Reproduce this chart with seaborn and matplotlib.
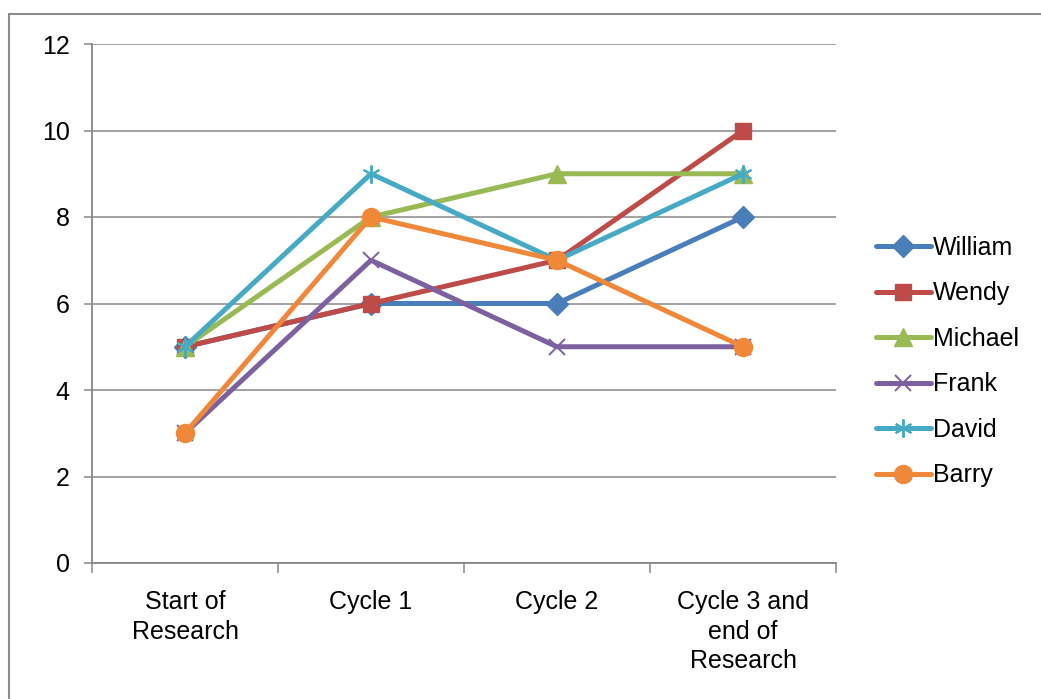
import numpy as np
import pandas as pd
import matplotlib
matplotlib.use("Agg")
import matplotlib.pyplot as plt
import seaborn as sns
from matplotlib.patches import Rectangle

# data
stages = ["Start of\nResearch", "Cycle 1", "Cycle 2", "Cycle 3 and\nend of\nResearch"]
names = ["William", "Wendy", "Michael", "Frank", "David", "Barry"]
william = [5, 6, 6, 8]
wendy = [5, 6, 7, 10]
michael = [5, 8, 9, 9]
frank = [3, 7, 5, 5]
david = [5, 9, 7, 9]
barry = [3, 8, 7, 5]

colors = ["#4A7EBB", "#BE4B48", "#98B954", "#7D60A0", "#46AAC5", "#F0883A"]
marker_list = ["D", "s", "^", "x", (6, 2, 0), "o"]
marker_sizes = [11, 12, 13, 12, 13, 13]

series = dict(zip(names, [william, wendy, michael, frank, david, barry]))
rows = []
for n in names:
    for i, v in enumerate(series[n]):
        rows.append({"stage": i, "score": v, "name": n})
df = pd.DataFrame(rows)

sns.set_style("white")
plt.rcParams["font.family"] = ["Liberation Sans", "DejaVu Sans"]
plt.rcParams["text.color"] = "black"
plt.rcParams["xtick.color"] = "black"
plt.rcParams["ytick.color"] = "black"

fig = plt.figure(figsize=(10.41, 6.99), dpi=100)
ax = fig.add_axes([92 / 1041, 1 - 563 / 699, (836 - 92) / 1041, (563 - 44) / 699])

# outer chart frame
fig.patches.append(Rectangle((9 / 1041, -0.05), 1.1, 1 - 14 / 699 + 0.05,
                             transform=fig.transFigure, fill=False,
                             edgecolor="#8c8c8c", linewidth=1.5, zorder=0))

for n, c, m, ms in zip(names, colors, marker_list, marker_sizes):
    sub = df[df["name"] == n]
    filled = m not in ("x",) and not isinstance(m, tuple)
    sns.lineplot(data=sub, x="stage", y="score", color=c, marker=m,
                 markersize=ms, linewidth=3.6, label=n, ax=ax,
                 markeredgecolor=c, markeredgewidth=1.0 if filled else 1.4,
                 markerfacecolor=c if filled else "none", zorder=3)

ax.set_xlim(-0.5, 3.5)
ax.set_ylim(0, 12)
ax.set_yticks(np.arange(0, 13, 2))
ax.set_xticks(range(4))
ax.set_xticklabels(stages, linespacing=1.3)
ax.set_xticks(np.arange(-0.5, 3.6, 1), minor=True)
ax.set_xlabel("")
ax.set_ylabel("")

ax.yaxis.grid(True, color="#878787", linewidth=1.1)
ax.xaxis.grid(False)
for s in ["top", "right"]:
    ax.spines[s].set_visible(False)
for s in ["left", "bottom"]:
    ax.spines[s].set_color("#878787")
    ax.spines[s].set_linewidth(1.3)

ax.tick_params(axis="y", which="major", left=True, length=6, width=1.1,
               color="#878787", labelcolor="black", labelsize=18, pad=10)
ax.tick_params(axis="x", which="major", bottom=False, labelcolor="black",
               labelsize=18, pad=16)
ax.tick_params(axis="x", which="minor", bottom=True, length=7, width=1.1,
               color="#878787")

handles, labels = ax.get_legend_handles_labels()
ax.legend(handles, labels, loc="center left", bbox_to_anchor=(1.04, 0.388),
          frameon=False, fontsize=18, handlelength=2.2, handletextpad=0.1,
          labelspacing=0.86, borderaxespad=0)

fig.savefig("out.png", dpi=100)
